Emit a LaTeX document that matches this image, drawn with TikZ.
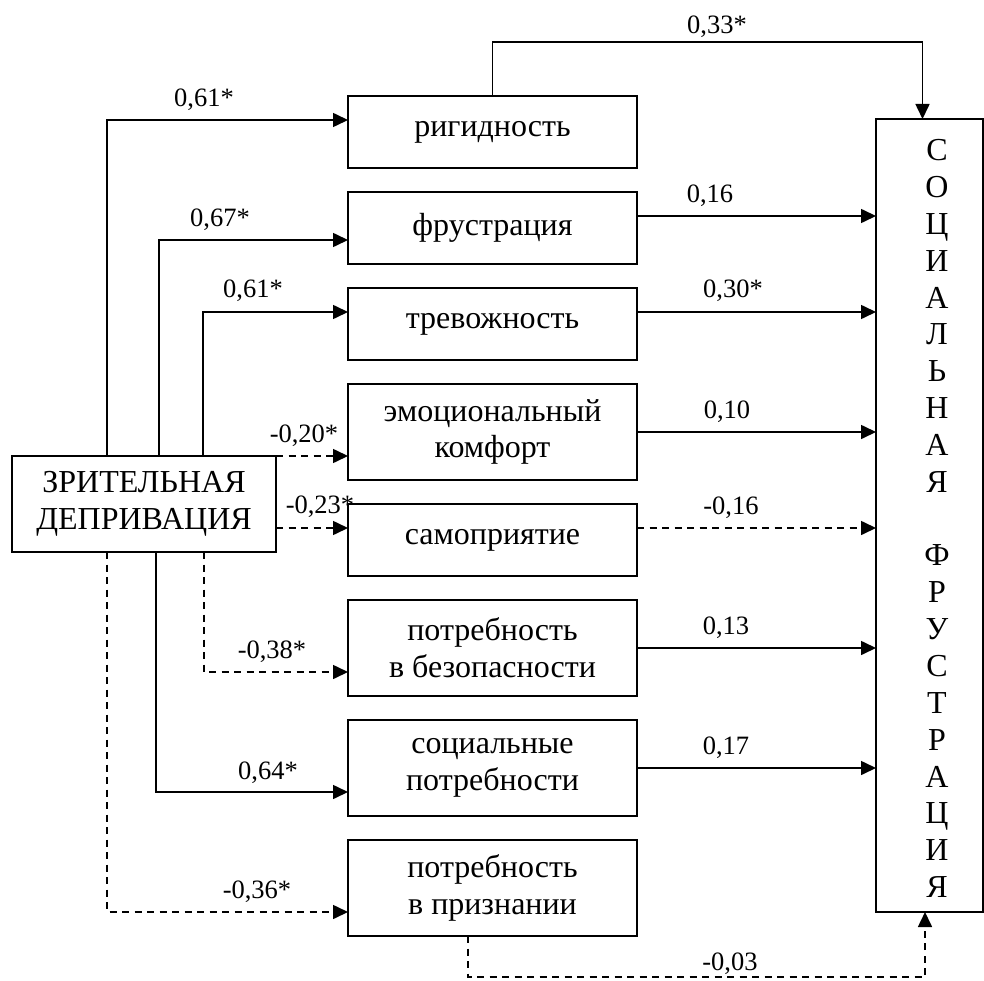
\documentclass[tikz,border=0pt]{standalone}
\usepackage{fontspec}
\setmainfont{Liberation Serif}
\usetikzlibrary{positioning}
\usetikzlibrary{arrows.meta}

\begin{document}
\begin{tikzpicture}[
            x = 1pt,
            y = -1pt,
            box/.style = {
                draw,
                line width = 2pt,
                inner sep = 0pt,
                outer sep = 0pt,
                align = center,
                font = \fontsize{32pt}{36.85pt}\selectfont
            },
            factor/.style = {
                box,
                minimum width = 289pt,
                minimum height = #1
            },
            factor/.default = 72pt,
            link/.style = {
                line width = 1.6pt,
                -{Triangle[length=15pt, width=14pt]}
            },
            neg/.style = {
                link,
                dash pattern = on 7pt off 5.5pt
            },
            coef/.style = {
                anchor = base,
                inner sep = 0pt,
                font = \fontsize{26.5pt}{30pt}\selectfont
            },
            node distance = {24pt}
            ]
            \useasboundingbox (0,0) rectangle (984,981);

            \node[box, minimum width=264pt, minimum height=96pt] (dep) at (144,504) {ЗРИТЕЛЬНАЯ\\ДЕПРИВАЦИЯ};

            \node[factor] (rig) at (492.5,132) {ригидность};
            \node[factor, below=of rig] (fru) {фрустрация};
            \node[factor, below=of fru] (tre) {тревожность};
            \node[factor=96pt, below=of tre] (emo) {эмоциональный\\комфорт};
            \node[factor, below=of emo] (sam) {самоприятие};
            \node[factor=96pt, below=of sam] (bez) {потребность\\в безопасности};
            \node[factor=96pt, below=of bez] (soc) {социальные\\потребности};
            \node[factor=96pt, below=of soc] (pri) {потребность\\в признании};

            \node[box, minimum width=107pt, minimum height=793pt] (sf) at (929.5,515.5) {};
            \node[box, draw=none] (sfname) at (937,518.5) {С\\О\\Ц\\И\\А\\Л\\Ь\\Н\\А\\Я\\~\\Ф\\Р\\У\\С\\Т\\Р\\А\\Ц\\И\\Я};

            % deprivation -> factors
            \draw[link] ([xshift=-37pt]dep.north) |- ([yshift=12pt]rig.west);
            \draw[link] ([xshift=15pt]dep.north) |- ([yshift=-12pt]fru.west);
            \draw[link] ([xshift=59pt]dep.north) |- ([yshift=12pt]tre.west);
            \draw[neg] (dep.north east) -- ([yshift=-24pt]emo.west);
            \draw[neg] ([yshift=-24pt]dep.east) -- ([yshift=12pt]sam.west);
            \draw[neg] ([xshift=60pt]dep.south) |- ([yshift=-24pt]bez.west);
            \draw[link] ([xshift=12pt]dep.south) |- ([yshift=-24pt]soc.west);
            \draw[neg] ([xshift=-37pt]dep.south) |- ([yshift=-24pt]pri.west);

            % factors -> social frustration
            \draw[link] (rig.north) |- ([xshift=-7pt,yshift=77pt]sf.north) -- ([xshift=-7pt]sf.north);
            \draw[link] ([yshift=12pt]fru.east) coordinate (f1) -- (f1 -| sf.west);
            \draw[link] ([yshift=12pt]tre.east) coordinate (t1) -- (t1 -| sf.west);
            \draw[link] (emo.east) -- (emo.east -| sf.west);
            \draw[neg] ([yshift=12pt]sam.east) coordinate (s1) -- (s1 -| sf.west);
            \draw[link] (bez.east) -- (bez.east -| sf.west);
            \draw[link] (soc.east) -- (soc.east -| sf.west);
            \draw[neg] ([xshift=-24.5pt]pri.south) |- ([xshift=-4.5pt,yshift=-65pt]sf.south) -- ([xshift=-4.5pt]sf.south);

            \node[coef] (c1) at (204,107) {0,61*};
            \node[coef] (c2) at (220,227) {0,67*};
            \node[coef] (c3) at (253,298) {0,61*};
            \node[coef] (c4) at (304,442) {-0,20*};
            \node[coef] (c5) at (320,513) {-0,23*};
            \node[coef] (c6) at (272,658) {-0,38*};
            \node[coef] (c7) at (268,779) {0,64*};
            \node[coef] (c8) at (257,898) {-0,36*};

            \node[coef] (d1) at (717,34) {0,33*};
            \node[coef] (d2) at (710,203) {0,16};
            \node[coef] (d3) at (733,298) {0,30*};
            \node[coef] (d4) at (727,418) {0,10};
            \node[coef] (d5) at (731,514) {-0,16};
            \node[coef] (d6) at (726,634) {0,13};
            \node[coef] (d7) at (726,754) {0,17};
            \node[coef] (d8) at (730,970) {-0,03};
        \end{tikzpicture}
\end{document}
